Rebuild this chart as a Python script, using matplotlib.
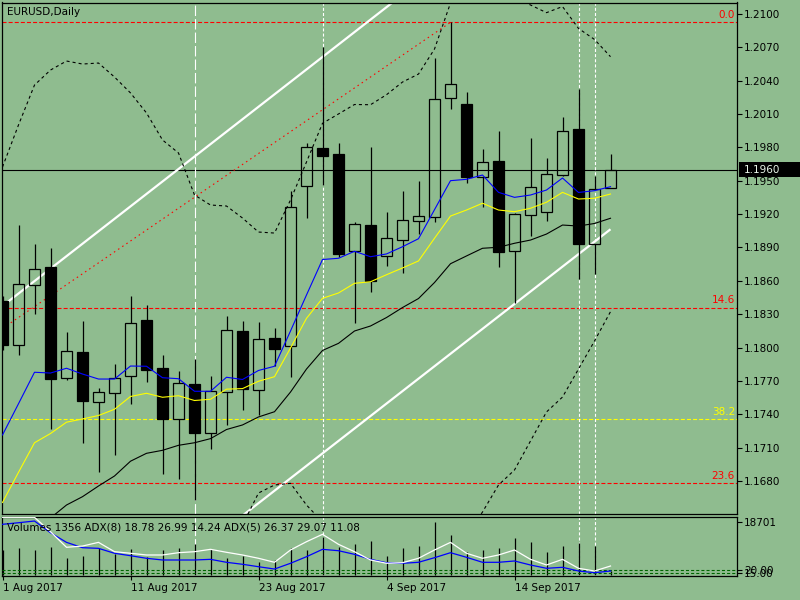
import matplotlib
matplotlib.use('Agg')
import matplotlib.pyplot as plt
import numpy as np
from matplotlib.patches import Rectangle

plt.rcParams['font.family'] = ['DejaVu Sans']
plt.rcParams['lines.scale_dashes'] = False

BG = '#8FBC8F'
nan = np.nan

# ---------------- data ----------------
opens = [1.18419, 1.18020, 1.18560, 1.18722, 1.17723, 1.17960, 1.17513, 1.17589, 1.17742, 1.18248,
         1.17816, 1.17360, 1.17675, 1.17229, 1.17598, 1.18146, 1.17616, 1.18083, 1.18011, 1.19450,
         1.19795, 1.19741, 1.18868, 1.19102, 1.18826, 1.18965, 1.19136, 1.19172, 1.20242, 1.20188,
         1.19531, 1.19678, 1.18866, 1.19190, 1.19217, 1.19549, 1.19966, 1.18929, 1.19432]
highs = [1.18464, 1.19102, 1.18931, 1.18893, 1.18137, 1.18239, 1.17634, 1.17852, 1.18464, 1.18383,
         1.17933, 1.17789, 1.17894, 1.17744, 1.18284, 1.18239, 1.18227, 1.18173, 1.19408, 1.19837,
         1.20701, 1.19840, 1.19126, 1.19807, 1.19219, 1.19408, 1.19498, 1.20602, 1.20924, 1.20296,
         1.19783, 1.19945, 1.19210, 1.19885, 1.19705, 1.20075, 1.20325, 1.19543, 1.19741]
lows = [1.17978, 1.17936, 1.18305, 1.17270, 1.17708, 1.17144, 1.16883, 1.17036, 1.17490, 1.17693,
        1.16865, 1.16815, 1.16629, 1.17085, 1.17303, 1.17438, 1.17393, 1.17834, 1.17738, 1.19168,
        1.19462, 1.18815, 1.18224, 1.18502, 1.18734, 1.18673, 1.19021, 1.19129, 1.20148, 1.19477,
        1.19267, 1.18727, 1.18398, 1.19003, 1.19141, 1.19543, 1.18614, 1.18659, 1.19432]
closes = [1.18026, 1.18569, 1.18704, 1.17720, 1.17966, 1.17522, 1.17598, 1.17723, 1.18218, 1.17801,
          1.17355, 1.17681, 1.17234, 1.17607, 1.18155, 1.17627, 1.18074, 1.17990, 1.19261, 1.19801,
          1.19726, 1.18844, 1.19109, 1.18601, 1.18983, 1.19145, 1.19181, 1.20233, 1.20368, 1.19537,
          1.19666, 1.18857, 1.19201, 1.19441, 1.19561, 1.19945, 1.18934, 1.19422, 1.19600]

ma_blue = [1.17214, 1.17495, 1.17778, 1.17771, 1.17814, 1.17762, 1.17717, 1.17717, 1.17834, 1.17832,
           1.17729, 1.17720, 1.17607, 1.17607, 1.17733, 1.17713, 1.17794, 1.17832, 1.18149, 1.18473,
           1.18792, 1.18803, 1.18866, 1.18817, 1.18842, 1.18907, 1.18979, 1.19240, 1.19501, 1.19513,
           1.19552, 1.19396, 1.19351, 1.19372, 1.19417, 1.19525, 1.19395, 1.19411, 1.19447]
ma_yellow = [1.16607, 1.16878, 1.17144, 1.17227, 1.17329, 1.17358, 1.17389, 1.17445, 1.17560, 1.17589,
             1.17553, 1.17567, 1.17524, 1.17535, 1.17626, 1.17631, 1.17697, 1.17738, 1.17996, 1.18263,
             1.18443, 1.18491, 1.18578, 1.18592, 1.18655, 1.18716, 1.18779, 1.18983, 1.19183, 1.19237,
             1.19298, 1.19237, 1.19222, 1.19253, 1.19307, 1.19396, 1.19336, 1.19343, 1.19381]
ma_black = [nan, nan, nan, 1.16467, 1.16584, 1.16659, 1.16755, 1.16845, 1.16978, 1.17049,
            1.17076, 1.17121, 1.17144, 1.17181, 1.17263, 1.17304, 1.17376, 1.17423, 1.17600, 1.17807,
            1.17974, 1.18038, 1.18149, 1.18194, 1.18270, 1.18360, 1.18441, 1.18585, 1.18754, 1.18824,
            1.18893, 1.18902, 1.18938, 1.18967, 1.19021, 1.19102, 1.19093, 1.19116, 1.19163]
band_upper = [1.19624, 1.20002, 1.20361, 1.20496, 1.20577, 1.20550, 1.20559, 1.20433, 1.20290, 1.20110,
              1.19867, 1.19750, 1.19372, 1.19282, 1.19273, 1.19165, 1.19039, 1.19030, 1.19327, 1.19669,
              1.20017, 1.20101, 1.20186, 1.20184, 1.20274, 1.20388, 1.20460, 1.20685, 1.21099, 1.21261,
              1.21306, 1.21261, 1.21153, 1.21081, 1.21012, 1.21067, 1.20870, 1.20771, 1.20616]
band_lower = [nan, nan, nan, nan, nan, nan, nan, nan, nan, nan,
              nan, nan, nan, nan, nan, 1.16404, 1.16692, 1.16764, 1.16779, 1.16584,
              1.16431, 1.16224, 1.16134, 1.16089, 1.16044, 1.15999, 1.15981, 1.15999, 1.16089, 1.16314,
              1.16521, 1.16764, 1.16899, 1.17160, 1.17421, 1.17555, 1.17807, 1.18059, 1.18323]

volumes = [9000, 9437, 8832, 9793, 5876, 6802, 9437, 7407, 9188, 6446,
           8832, 9437, 10862, 9081, 6090, 6802, 4665, 5271, 9437, 8832,
           13355, 10007, 10862, 12037, 6802, 9437, 10256, 18701, 14174, 8226,
           8832, 9651, 12999, 11574, 8013, 10256, 11218, 10256, 1356]
adx8 = [89.7, 92.1, 94.7, 76.9, 62.3, 54.2, 53.2, 45.7, 42.0, 38.1,
        35.5, 35.5, 35.5, 36.5, 32.0, 29.0, 25.3, 21.8, 30.5, 40.5,
        51.7, 49.6, 44.1, 36.5, 31.4, 30.5, 32.0, 39.0, 46.6, 39.6,
        32.0, 32.0, 34.0, 27.9, 22.9, 24.4, 18.8, 16.2, 18.78]
adx5 = [100.3, 100.3, 100.3, 78.4, 54.8, 56.7, 62.3, 48.1, 45.7, 43.1,
        43.1, 46.6, 48.1, 51.7, 47.2, 43.1, 38.1, 32.0, 50.7, 63.3,
        74.5, 59.3, 48.1, 35.5, 30.5, 31.4, 38.1, 50.7, 62.3, 45.7,
        38.1, 43.1, 50.7, 36.5, 27.9, 36.5, 22.9, 18.8, 26.37]
adx_levels = [20, 15]
adx_level_labels = ['20.00', '15.00']

date_tick_idx = [0, 8, 16, 24, 32]
date_tick_labels = ['1 Aug 2017', '11 Aug 2017', '23 Aug 2017', '4 Sep 2017', '14 Sep 2017']
price_ticks = [1.1680, 1.1710, 1.1740, 1.1770, 1.1800, 1.1830, 1.1860, 1.1890,
               1.1920, 1.1950, 1.1980, 1.2010, 1.2040, 1.2070, 1.2100]

fib_levels = [1.20925, 1.18360, 1.17361, 1.16785]
fib_labels = ['0.0', '14.6', '38.2', '23.6']
fib_colors = ['#FF0000', '#FF0000', '#FFFF00', '#FF0000']
fib_diag_idx = [0, 28]
fib_diag_price = [1.18172, 1.20925]
channel_idx = [0, 38]
channel_upper = [1.18374, 1.22629]
channel_lower = [1.14809, 1.19064]
vline_idx = [12, 20, 36, 37]
vline_long = [True, False, False, False]
last_price = 1.1960
vol_label = 18701
header = 'Volumes 1356 ADX(8) 18.78 26.99 14.24 ADX(5) 26.37 29.07 11.08'

# ---------------- figure ----------------
W, H = 800, 600
fig = plt.figure(figsize=(8, 6), dpi=100, facecolor=BG)

def fx(px):
    return px / W

def fy(py):
    return 1 - py / H

ax = fig.add_axes([fx(2), fy(514), fx(735), (514 - 2.5) / H])
axv = fig.add_axes([fx(2), fy(576), fx(735), (576 - 517) / H])
for a in (ax, axv):
    a.set_facecolor(BG)
    for s in a.spines.values():
        s.set_color('black')
        s.set_linewidth(0.9)

x = np.arange(len(opens))
xlim = (-0.03125, 45.906)
ax.set_xlim(*xlim)
axv.set_xlim(*xlim)
ax.set_ylim(1.165032, 1.211034)

FS = 7.5

# objects (background)
for lv, c in zip(fib_levels, fib_colors):
    ax.axhline(lv, color=c, lw=0.8, dashes=(2.9, 1.5), zorder=1)
ax.axhline(last_price, color='black', lw=0.8, zorder=1)
for vi, lg in zip(vline_idx, vline_long):
    d = (7.5, 2.2) if lg else (2.2, 1.5)
    ax.axvline(vi, color='white', lw=0.8, dashes=d, zorder=1)
    axv.axvline(vi, color='white', lw=0.8, dashes=d, zorder=1)
ax.plot(fib_diag_idx, fib_diag_price, color='#FF0000', lw=0.8, dashes=(1.1, 2.5), zorder=1)
ax.plot(channel_idx, channel_upper, color='white', lw=1.6, zorder=1, solid_capstyle='butt')
ax.plot(channel_idx, channel_lower, color='white', lw=1.6, zorder=1, solid_capstyle='butt')

for lv, lab, c in zip(fib_levels, fib_labels, fib_colors):
    ax.annotate(lab, xy=(45.78, lv), xytext=(0, 1.5), textcoords='offset points',
                ha='right', va='bottom', color=c, fontsize=FS, zorder=5)

# candles
O = np.array(opens); Hh = np.array(highs); L = np.array(lows); C = np.array(closes)
bull = C >= O
blo = np.minimum(O, C)
bhi = np.maximum(O, C)
ax.vlines(x, bhi, Hh, color='black', lw=0.9, zorder=3)
ax.vlines(x, L, blo, color='black', lw=0.9, zorder=3)
ax.bar(x[bull], (bhi - blo)[bull], bottom=blo[bull], width=0.66, fill=False,
       edgecolor='black', linewidth=0.9, zorder=3)
ax.bar(x[~bull], (bhi - blo)[~bull], bottom=blo[~bull], width=0.66, facecolor='black',
       edgecolor='black', linewidth=0.9, zorder=3)

# indicators
ax.plot(x, ma_black, color='black', lw=0.8, zorder=4)
ax.plot(x, ma_yellow, color='#FFFF00', lw=0.8, zorder=4)
ax.plot(x, ma_blue, color='#0000FF', lw=0.8, zorder=4)
ax.plot(x, band_upper, color='black', lw=0.8, dashes=(2.2, 2.2), zorder=4)
ax.plot(x, band_lower, color='black', lw=0.8, dashes=(2.2, 2.2), zorder=4)

# price axis
ax.set_xticks([])
ax.yaxis.tick_right()
ax.set_yticks(price_ticks)
ax.set_yticklabels(['%.4f' % p for p in price_ticks])
ax.tick_params(axis='y', direction='out', length=3.6, width=0.8, pad=1.4,
               labelsize=FS, colors='black')

# volume panel
axv.set_ylim(-427, 20584)
axv.vlines(x, 0, volumes, color='black', lw=0.9, zorder=2)
axv.set_xticks(date_tick_idx)
axv.set_xticklabels(date_tick_labels)
for lbl in axv.get_xticklabels():
    lbl.set_ha('left')
axv.tick_params(axis='x', direction='out', length=3, width=0.8, pad=2, labelsize=FS)

axa = axv.twinx()
axa.set_xlim(*xlim)
axa.set_ylim(11.2, 100.8)
axa.patch.set_visible(False)
for s in axa.spines.values():
    s.set_visible(False)
for lv in adx_levels:
    axa.axhline(lv, color='#006400', lw=0.8, dashes=(2.2, 1.5), zorder=1)
axa.plot(x, adx8, color='#0000FF', lw=0.9, zorder=3)
axa.plot(x, adx5, color='white', lw=0.9, zorder=3)
axa.set_yticks(adx_levels)
axa.set_yticklabels(adx_level_labels)
axa.tick_params(axis='y', direction='out', length=3.6, width=0.8, pad=1.4, labelsize=FS)

# volume scale label on the right (after twinx, which resets the side)
axv.yaxis.tick_right()
axv.set_yticks([vol_label])
axv.set_yticklabels([str(vol_label)])
axv.tick_params(axis='y', direction='out', length=3.6, width=0.8, pad=1.4, labelsize=FS,
                left=False, labelleft=False, right=True, labelright=True)

# texts
fig.text(fx(7), fy(12), 'EURUSD,Daily', fontsize=FS, va='center', ha='left')
fig.text(fx(7), fy(528), header, fontsize=FS, va='center', ha='left')
fig.patches.append(Rectangle((fx(739), fy(177)), fx(61), 15 / H, transform=fig.transFigure,
                             facecolor='black', edgecolor='none', zorder=5))
fig.text(fx(744), fy(170), '%.4f' % last_price, fontsize=FS, va='center', ha='left',
         color='#E8F4E8', zorder=6)

fig.savefig('out.png', dpi=100, facecolor=BG)
